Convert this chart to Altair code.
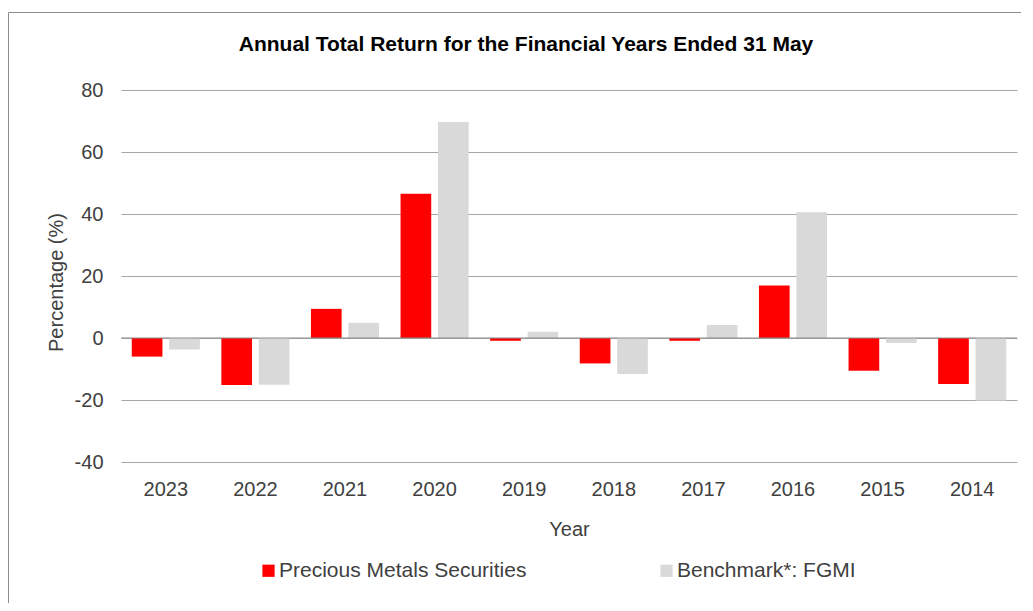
import altair as alt
import pandas as pd

years = ["2023", "2022", "2021", "2020", "2019", "2018", "2017", "2016", "2015", "2014"]
series = ["Precious Metals Securities", "Benchmark*: FGMI"]
pms = [-6.0, -15.2, 9.4, 46.5, -0.9, -8.2, -0.9, 16.9, -10.6, -14.8]
fgmi = [-3.7, -15.1, 4.9, 69.7, 2.0, -11.6, 4.2, 40.6, -1.6, -20.2]
colors = ["#FF0000", "#D9D9D9"]
y_ticks = [-40, -20, 0, 20, 40, 60, 80]

rows = []
for i, yr in enumerate(years):
    rows.append({"Year": yr, "Series": series[0], "Value": pms[i]})
    rows.append({"Year": yr, "Series": series[1], "Value": fgmi[i]})
df = pd.DataFrame(rows)

FONT = "Liberation Sans"
W, H = 896, 372

x_enc = alt.X(
    "Year:N",
    sort=years,
    scale=alt.Scale(paddingInner=0.24, paddingOuter=0.12),
    axis=alt.Axis(
        title="Year", labelAngle=0, domain=False, ticks=False,
        labelPadding=17, titlePadding=20, labelFontSize=20, titleFontSize=20,
        labelColor="#404040", titleColor="#404040", titleFontWeight="normal",
        labelFont=FONT, titleFont=FONT, grid=False,
    ),
)

y_enc = alt.Y(
    "Value:Q",
    scale=alt.Scale(domain=[-40, 80], nice=False),
    axis=alt.Axis(
        title="Percentage (%)", values=y_ticks, domain=False, ticks=False,
        labelExpr="'' + datum.value",
        labelPadding=18, titlePadding=8, titleY=192,
        labelFontSize=20, titleFontSize=20,
        labelColor="#404040", titleColor="#404040", titleFontWeight="normal",
        labelFont=FONT, titleFont=FONT, grid=True, gridColor="#A6A6A6",
        gridWidth=1,
    ),
)

bars = alt.Chart(df).mark_bar().encode(
    x=x_enc,
    xOffset=alt.XOffset("Series:N", sort=series,
                        scale=alt.Scale(paddingInner=0.18)),
    y=y_enc,
    color=alt.Color(
        "Series:N", sort=series,
        scale=alt.Scale(domain=series, range=colors),
        legend=alt.Legend(
            title=None, orient="none", direction="horizontal",
            legendX=137, legendY=470, symbolType="square", symbolSize=150,
            symbolStrokeWidth=0, labelFontSize=21, labelFont=FONT,
            labelColor="#404040", columnPadding=129, labelOffset=0,
            labelLimit=400,
        ),
    ),
)

zero = alt.Chart(pd.DataFrame({"zero": [0]})).mark_rule(
    color="#8C8C8C", strokeWidth=1.2
).encode(y=alt.Y("zero:Q", scale=alt.Scale(domain=[-40, 80], nice=False)))

frame = alt.Chart(pd.DataFrame({"f": [0]})).mark_rect(
    fill="transparent", stroke="#8C8C8C", strokeWidth=1, clip=False
).encode(
    x=alt.value(-112.5), x2=alt.value(1000),
    y=alt.value(-77.5), y2=alt.value(600),
)

chart = alt.layer(bars, zero, frame).properties(
    width=W, height=H,
    autosize=alt.AutoSizeParams(type="none"),
    padding={"left": 113, "top": 82, "right": 4, "bottom": 141},
    title=alt.TitleParams(
        "Annual  Total Return for the Financial  Years Ended 31 May",
        anchor="middle", frame="group", dx=-43, offset=-43, fontSize=21,
        fontWeight="bold", font=FONT, color="#000000",
    ),
).configure_view(stroke=None)

chart.save("out.html", embed_options={"renderer": "svg", "actions": False})
